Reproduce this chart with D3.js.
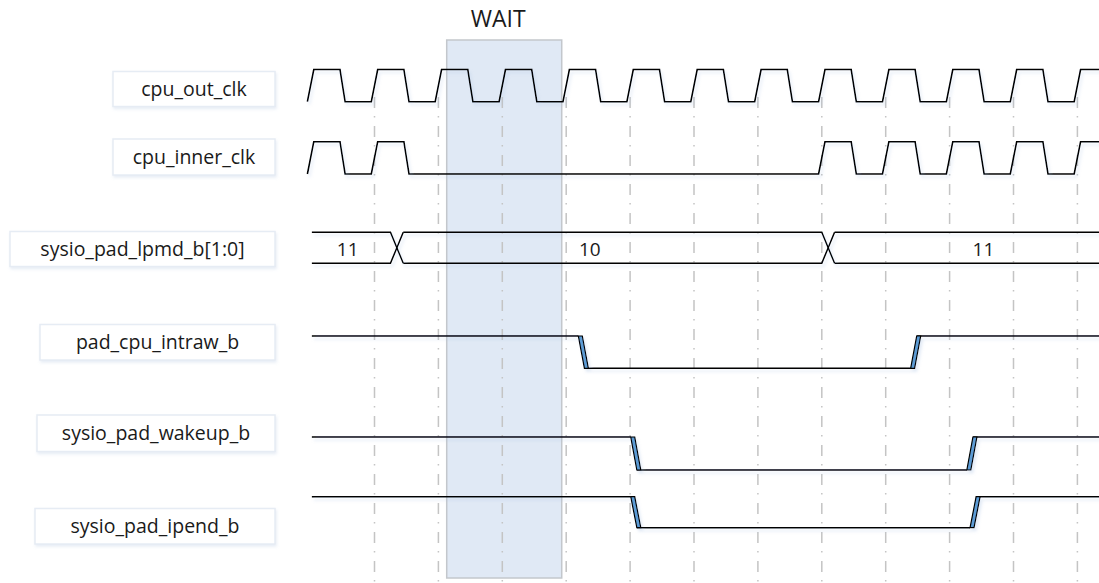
<!DOCTYPE html>
<html>
<head>
<meta charset="utf-8">
<script src="https://cdn.jsdelivr.net/npm/d3@7"></script>
<style>
  html, body { margin: 0; padding: 0; background: #fff; }
  svg { display: block; }
  text { font-family: "Open Sans", "DejaVu Sans", sans-serif; fill: #1a1a1a; }
</style>
</head>
<body>
<svg id="chart" width="1099" height="583"></svg>
<script>
// ---------------- DATA ----------------
const signalNames = ["cpu_out_clk", "cpu_inner_clk", "sysio_pad_lpmd_b[1:0]",
                     "pad_cpu_intraw_b", "sysio_pad_wakeup_b", "sysio_pad_ipend_b"];
const gridTicks = [0, 1, 2, 3, 4, 5, 6, 7, 8, 9, 10, 11];           // clock cycle boundaries
const outClkRises = [-1, 0, 1, 2, 3, 4, 5, 6, 7, 8, 9, 10, 11];      // cpu_out_clk rising edges (cycles)
const innerClkRises = [-1, 0, 7, 8, 9, 10, 11];                        // cpu_inner_clk rising edges (cycles)
const busValues = ["11", "10", "11"];                                  // sysio_pad_lpmd_b[1:0]
const busTransitions = [0.35, 7.1];                                    // bus change times (cycles)
const busLabelTimes = [-0.42, 3.37, 9.53];
const intrawEdges = [3.19, 8.39];      // pad_cpu_intraw_b: fall, rise
const wakeupEdges = [4.01, 9.27];      // sysio_pad_wakeup_b: fall, rise
const ipendEdges = [4.01, 9.32];       // sysio_pad_ipend_b: fall, rise
const waitWindow = [1.13, 2.93];       // WAIT region (cycles)
const waitLabel = "WAIT";

// ---------------- LAYOUT ----------------
const W = 1099, H = 583;
const tStart = -0.98, tEnd = 11.6;
const x = d3.scaleLinear().domain([0, 1]).range([374.5, 438.4]);
// row levels: [high y, low y]
const rows = [
  {hi: 69.5, lo: 101.7},
  {hi: 141.7, lo: 174},
  {hi: 232.3, lo: 263.3},
  {hi: 336, lo: 368.3},
  {hi: 437, lo: 470},
  {hi: 496.7, lo: 527.7}
];
const boxes = [
  {x0: 113, x1: 275, y0: 71.5, y1: 106.5},
  {x0: 113, x1: 275, y0: 139, y1: 175},
  {x0: 10,  x1: 275, y0: 231.5, y1: 266.5},
  {x0: 40,  x1: 275, y0: 324.5, y1: 360},
  {x0: 37,  x1: 275, y0: 415, y1: 451.5},
  {x0: 35,  x1: 275, y0: 508.5, y1: 544}
];

const svg = d3.select("#chart");
const defs = svg.append("defs");
const glow = defs.append("filter").attr("id", "glow")
  .attr("x", "-5%").attr("y", "-20%").attr("width", "110%").attr("height", "150%");
glow.append("feDropShadow").attr("dx", 2).attr("dy", 3).attr("stdDeviation", 1.6)
  .attr("flood-color", "#9fbbe0").attr("flood-opacity", 0.3);
const boxShadow = defs.append("filter").attr("id", "boxShadow")
  .attr("x", "-5%").attr("y", "-20%").attr("width", "110%").attr("height", "150%");
boxShadow.append("feDropShadow").attr("dx", 1).attr("dy", 2).attr("stdDeviation", 1.5)
  .attr("flood-color", "#c3d3e8").attr("flood-opacity", 0.4);

// WAIT band
svg.append("rect")
  .attr("x", x(waitWindow[0])).attr("y", 40)
  .attr("width", x(waitWindow[1]) - x(waitWindow[0])).attr("height", 538)
  .attr("fill", "#e0e9f5").attr("stroke", "#c3c7cc").attr("stroke-width", 1.5);
svg.append("text")
  .attr("x", (x(waitWindow[0]) + x(waitWindow[1])) / 2 - 6).attr("y", 27)
  .attr("text-anchor", "middle").attr("font-size", 23)
  .text(waitLabel);

// grid
svg.append("g").selectAll("line").data(gridTicks).join("line")
  .attr("x1", d => x(d)).attr("x2", d => x(d))
  .attr("y1", 97).attr("y2", H)
  .attr("stroke", "#c4c4c4").attr("stroke-width", 1.5)
  .attr("stroke-dasharray", "11,8,1.5,8.5");

// label boxes
const lab = svg.append("g");
lab.selectAll("rect").data(boxes).join("rect")
  .attr("x", d => d.x0).attr("y", d => d.y0)
  .attr("width", d => d.x1 - d.x0).attr("height", d => d.y1 - d.y0)
  .attr("fill", "#fff").attr("stroke", "#e6ecf4").attr("stroke-width", 1.5)
  .attr("filter", "url(#boxShadow)");
lab.selectAll("text").data(signalNames).join("text")
  .attr("x", (d, i) => (boxes[i].x0 + boxes[i].x1) / 2)
  .attr("y", (d, i) => (boxes[i].y0 + boxes[i].y1) / 2 + 6.5)
  .attr("text-anchor", "middle").attr("font-size", 19.5)
  .text(d => d);

const waves = svg.append("g").attr("filter", "url(#glow)");
const line = d3.line().x(d => x(d[0])).y(d => d[1]);

// clocks
function clockPoints(rises, r) {
  const pts = [];
  const dr = 0.05, f0 = 0.46, f1 = 0.54;
  rises.forEach((t, i) => {
    pts.push([t - dr, r.lo], [t + dr, r.hi], [t + f0, r.hi], [t + f1, r.lo]);
    if (rises[i + 1] === undefined) pts.push([tEnd, r.lo]);
  });
  return pts;
}
[outClkRises, innerClkRises].forEach((rises, i) => {
  waves.append("path").attr("d", line(clockPoints(rises, rows[i])))
    .attr("fill", "none").attr("stroke", "#000").attr("stroke-width", 1.6)
    .attr("stroke-linejoin", "miter");
});

// bus
(function () {
  const r = rows[2], hw = 0.1;
  const bounds = [tStart].concat(busTransitions).concat([tEnd]);
  for (let i = 0; i < bounds.length - 1; i++) {
    const a = i === 0 ? bounds[i] : bounds[i] + hw;
    const b = i === bounds.length - 2 ? bounds[i + 1] : bounds[i + 1] - hw;
    const topPts = [[a, r.hi], [b, r.hi]];
    const botPts = [[a, r.lo], [b, r.lo]];
    if (i < bounds.length - 2) {
      topPts.push([bounds[i + 1] + hw, r.lo]);
      botPts.push([bounds[i + 1] + hw, r.hi]);
    }
    [topPts, botPts].forEach(p => waves.append("path").attr("d", line(p))
      .attr("fill", "none").attr("stroke", "#000").attr("stroke-width", 1.5));
  }
  svg.append("g").selectAll("text").data(busValues).join("text")
    .attr("x", (d, i) => x(busLabelTimes[i])).attr("y", (r.hi + r.lo) / 2 + 8)
    .attr("text-anchor", "middle").attr("font-size", 19).text(d => d);
})();

// pulse-low signals with highlighted edges
function pulseLow(edges, r) {
  const d = 0.095, w = 4;   // edge duration (cycles), edge thickness (px)
  const [fall, rise] = edges;
  const g = waves.append("g");
  const segs = [
    [[tStart, r.hi], [fall, r.hi]],
    [[fall + d, r.lo], [rise, r.lo]],
    [[rise + d, r.hi], [tEnd, r.hi]]
  ];
  segs.forEach(s => g.append("path").attr("d", line(s))
    .attr("fill", "none").attr("stroke", "#000").attr("stroke-width", 1.6));
  const poly = (t0, y0, t1, y1) => [[x(t0), y0], [x(t0) + w, y0], [x(t1) + w, y1], [x(t1), y1]];
  [poly(fall, r.hi, fall + d, r.lo), poly(rise, r.lo, rise + d, r.hi)].forEach(p =>
    g.append("polygon").attr("points", p.map(q => q.join(",")).join(" "))
      .attr("fill", "#5b9bd5").attr("stroke", "#000").attr("stroke-width", 1.2)
      .attr("stroke-linejoin", "miter"));
}
pulseLow(intrawEdges, rows[3]);
pulseLow(wakeupEdges, rows[4]);
pulseLow(ipendEdges, rows[5]);
</script>
</body>
</html>
